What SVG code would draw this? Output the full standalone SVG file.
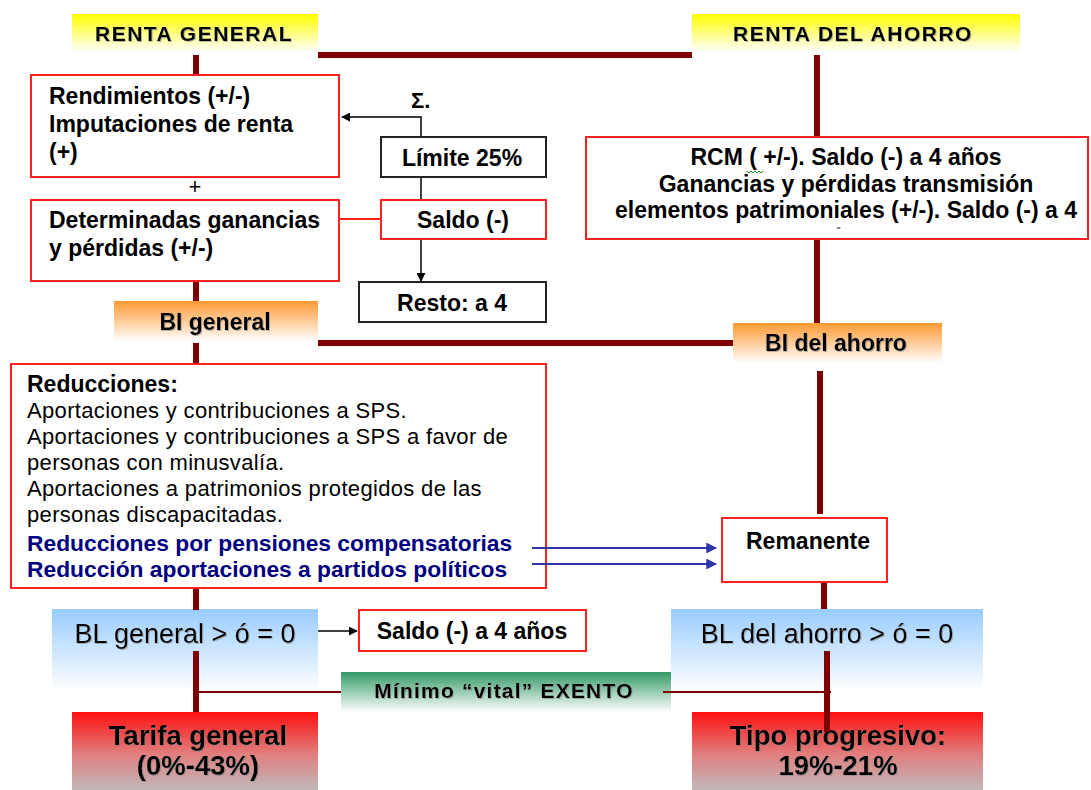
<svg xmlns="http://www.w3.org/2000/svg" width="1091" height="790" viewBox="0 0 1091 790">
<defs>
<linearGradient id="gY" x1="0" y1="0" x2="0" y2="1"><stop offset="0" stop-color="#ffff00"/><stop offset="1" stop-color="#ffffff"/></linearGradient>
<linearGradient id="gO" x1="0" y1="0" x2="0" y2="1"><stop offset="0" stop-color="#ff9933"/><stop offset="1" stop-color="#ffffff"/></linearGradient>
<linearGradient id="gB" x1="0" y1="0" x2="0" y2="1"><stop offset="0" stop-color="#99ccff"/><stop offset="1" stop-color="#ffffff"/></linearGradient>
<linearGradient id="gG" x1="0" y1="0" x2="0" y2="1"><stop offset="0" stop-color="#339966"/><stop offset="1" stop-color="#ffffff"/></linearGradient>
<linearGradient id="gR" x1="0" y1="0" x2="0" y2="1"><stop offset="0" stop-color="#ff1010"/><stop offset="0.55" stop-color="#e08080"/><stop offset="1" stop-color="#c0b8b8"/></linearGradient>
<marker id="aK" viewBox="0 0 10 10" refX="9" refY="5" markerWidth="6" markerHeight="6" orient="auto"><path d="M0,0 L10,5 L0,10 z" fill="#000"/></marker>
<marker id="aB" viewBox="0 0 10 10" refX="9" refY="5" markerWidth="6" markerHeight="6" orient="auto"><path d="M0,0 L10,5 L0,10 z" fill="#3333aa"/></marker>
<filter id="sh" x="-5%" y="-20%" width="110%" height="140%"><feDropShadow dx="1" dy="1" stdDeviation="0.5" flood-color="#888" flood-opacity="0.6"/></filter>
</defs>
<style>
text{font-family:"Liberation Sans",Arial,sans-serif;fill:#000}
.b{font-weight:bold;font-size:23px}
.c{text-anchor:middle}
.h{font-weight:bold;font-size:21px;letter-spacing:1.5px}
.n{font-size:22px;letter-spacing:0.33px}
.bl{font-weight:bold;font-size:22.8px;fill:#000080}
.big{font-size:27px}
.bigb{font-weight:bold;font-size:27.5px}
.rb{fill:#fff;stroke:#ff2020;stroke-width:2}
.kb{fill:#fff;stroke:#222;stroke-width:2}
.thick{stroke:#7f0000;stroke-width:6;fill:none}
.thin{stroke:#7f0000;stroke-width:1.8;fill:none}
.blk{stroke:#000;stroke-width:1.5;fill:none}
.blu{stroke:#3333aa;stroke-width:1.8;fill:none}
</style>

<g id="renta-general">
<rect x="72" y="14" width="246" height="38" fill="url(#gY)"/>
<text class="h c" x="194" y="41" filter="url(#sh)">RENTA GENERAL</text>
</g>
<g id="renta-ahorro">
<rect x="692" y="14" width="328" height="38" fill="url(#gY)"/>
<text class="h c" x="853" y="41" filter="url(#sh)">RENTA DEL AHORRO</text>
</g>

<g id="rendimientos">
<rect class="rb" x="31" y="75" width="308" height="102"/>
<text class="b" x="49" y="104">Rendimientos (+/-)</text>
<text class="b" x="49" y="132">Imputaciones de renta</text>
<text class="b" x="49" y="160">(+)</text>
</g>
<g id="plus"><text x="195" y="194" class="c" style="font-size:22px">+</text></g>
<g id="ganancias">
<rect class="rb" x="31" y="200" width="308" height="81"/>
<text class="b" x="49" y="228">Determinadas ganancias</text>
<text class="b" x="49" y="256">y pérdidas (+/-)</text>
</g>
<g id="sigma"><text class="b" x="411" y="108" style="font-size:22px">Σ.</text></g>
<g id="limite">
<rect class="kb" x="381" y="137" width="165" height="40"/>
<text class="b c" x="462" y="166">Límite 25%</text>
</g>
<g id="saldo">
<rect class="rb" x="381" y="200" width="165" height="39"/>
<text class="b c" x="463" y="228">Saldo (-)</text>
</g>
<g id="resto">
<rect class="kb" x="359" y="282" width="187" height="40"/>
<text class="b c" x="452" y="311">Resto: a 4</text>
</g>

<g id="rcm">
<rect class="rb" x="586" y="137" width="502" height="102"/>
<text class="b c" x="846" y="165">RCM ( +/-). Saldo (-) a 4 años</text>
<path d="M747,171 l2,2 l2,-2 l2,2 l2,-2 l2,2 l2,-2 l2,2 l2,-2" stroke="#2a2" stroke-width="1" fill="none"/>
<text class="b c" x="846" y="192">Ganancias y pérdidas transmisión</text>
<text class="b c" x="846" y="218">elementos patrimoniales (+/-). Saldo (-) a 4</text>
<text class="c" x="838" y="236" style="font-size:11px">˝</text>
</g>

<g id="bi-general">
<rect x="114" y="301" width="204" height="40" fill="url(#gO)"/>
<text class="b c" x="215" y="330" filter="url(#sh)">BI general</text>
</g>
<g id="bi-ahorro">
<rect x="733" y="323" width="209" height="40" fill="url(#gO)"/>
<text class="b c" x="836" y="351" filter="url(#sh)">BI del ahorro</text>
</g>

<g id="reducciones">
<rect class="rb" x="11" y="364" width="535" height="224"/>
<text class="b" x="27" y="392">Reducciones:</text>
<text class="n" x="27" y="418">Aportaciones y contribuciones a SPS.</text>
<text class="n" x="27" y="444">Aportaciones y contribuciones a SPS a favor de</text>
<text class="n" x="27" y="470">personas con minusvalía.</text>
<text class="n" x="27" y="496">Aportaciones a patrimonios protegidos de las</text>
<text class="n" x="27" y="522">personas discapacitadas.</text>
<text class="bl" x="27" y="551">Reducciones por pensiones compensatorias</text>
<text class="bl" x="27" y="577">Reducción aportaciones a partidos políticos</text>
</g>

<g id="remanente">
<rect class="rb" x="722" y="518" width="165" height="64"/>
<text class="b c" x="808" y="549">Remanente</text>
</g>

<g id="bl-general">
<rect x="52" y="609" width="266" height="82" fill="url(#gB)"/>
<text class="big c" x="185" y="643" filter="url(#sh)">BL general &gt; ó = 0</text>
</g>
<g id="saldo-4">
<rect class="rb" x="359" y="610" width="227" height="41"/>
<text class="b c" x="472" y="639">Saldo (-) a 4 años</text>
</g>
<g id="bl-ahorro">
<rect x="671" y="609" width="312" height="82" fill="url(#gB)"/>
<text class="big c" x="827" y="643" filter="url(#sh)">BL del ahorro &gt; ó = 0</text>
</g>

<g id="minimo">
<rect x="341" y="672" width="330" height="40" fill="url(#gG)"/>
<text class="b c" x="504" y="698" style="letter-spacing:1.2px;font-size:21px" filter="url(#sh)">Mínimo “vital” EXENTO</text>
</g>

<g id="tarifa-general">
<rect x="72" y="712" width="246" height="78" fill="url(#gR)"/>
<text class="bigb c" x="198" y="745" filter="url(#sh)">Tarifa general</text>
<text class="bigb c" x="198" y="775" filter="url(#sh)">(0%-43%)</text>
</g>
<g id="tipo-progresivo">
<rect x="692" y="712" width="291" height="78" fill="url(#gR)"/>
<text class="bigb c" x="838" y="745" filter="url(#sh)">Tipo progresivo:</text>
<text class="bigb c" x="838" y="775" filter="url(#sh)">19%-21%</text>
</g>

<g id="connectors">
<line class="thick" x1="318" y1="55" x2="692" y2="55"/>
<line class="thick" x1="196" y1="55" x2="196" y2="74"/>
<line class="thick" x1="817" y1="55" x2="817" y2="136"/>
<line class="thick" x1="196" y1="282" x2="196" y2="301"/>
<line class="thick" x1="196" y1="343" x2="196" y2="363"/>
<line class="thick" x1="817" y1="240" x2="817" y2="323"/>
<line class="thick" x1="318" y1="343" x2="733" y2="343"/>
<line class="thick" x1="820" y1="371" x2="820" y2="514"/>
<line class="thick" x1="824" y1="583" x2="824" y2="609"/>
<line class="thick" x1="196" y1="589" x2="196" y2="610"/>
<line class="thick" x1="196" y1="651" x2="196" y2="712"/>
<line class="thick" x1="827" y1="651" x2="827" y2="732"/>
<line class="thin" x1="198" y1="692" x2="341" y2="692"/>
<line class="thin" x1="663" y1="692" x2="831" y2="692"/>
<path class="blk" d="M421,136 V117 H342" marker-end="url(#aK)"/>
<line class="blk" x1="421" y1="178" x2="421" y2="199"/>
<line class="blk" x1="421" y1="240" x2="421" y2="281" marker-end="url(#aK)"/>
<line x1="340" y1="219" x2="380" y2="219" stroke="#ff2020" stroke-width="1.8"/>
<line class="blu" x1="532" y1="548" x2="716" y2="548" marker-end="url(#aB)"/>
<line class="blu" x1="532" y1="564" x2="716" y2="564" marker-end="url(#aB)"/>
<line class="blk" x1="318" y1="631" x2="357" y2="631" marker-end="url(#aK)"/>
</g>
</svg>
